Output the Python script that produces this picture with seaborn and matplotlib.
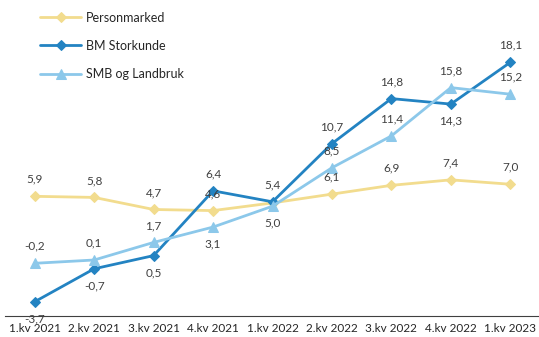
import matplotlib
matplotlib.use("Agg")
import matplotlib.pyplot as plt
import seaborn as sns
import pandas as pd

categories = ["1.kv 2021", "2.kv 2021", "3.kv 2021", "4.kv 2021", "1.kv 2022",
              "2.kv 2022", "3.kv 2022", "4.kv 2022", "1.kv 2023"]
personmarked = [5.9, 5.8, 4.7, 4.6, 5.3, 6.1, 6.9, 7.4, 7.0]
bm_storkunde = [-3.7, -0.7, 0.5, 6.4, 5.4, 10.7, 14.8, 14.3, 18.1]
smb_landbruk = [-0.2, 0.1, 1.7, 3.1, 5.0, 8.5, 11.4, 15.8, 15.2]
series_names = ["Personmarked", "BM Storkunde", "SMB og Landbruk"]

# label placement: +1 above, -1 below, 0 hidden
pos_person = [1, 1, 1, 1, 0, 1, 1, 1, 1]
pos_bm = [-1, -1, -1, 1, 1, 1, 1, -1, 1]
pos_smb = [1, 1, 1, -1, -1, 1, 1, 1, 1]

sns.set_style("white")
plt.rcParams['font.family'] = ['Lato', 'DejaVu Sans']

fig = plt.figure(figsize=(5.39, 3.37), dpi=100)
ax = fig.add_axes([5/539, 21/337, 535/539, 274.5/337])

colors = ["#F2DC8E", "#2383C2", "#8CC8EA"]
markers = ["D", "D", "^"]
msizes = [5, 5, 6.5]
lws = [2.0, 2.0, 2.0]
all_vals = [personmarked, bm_storkunde, smb_landbruk]
all_pos = [pos_person, pos_bm, pos_smb]

for name, vals, c, m, ms, lw in zip(series_names, all_vals, colors, markers, msizes, lws):
    df = pd.DataFrame({"x": list(range(len(categories))), "y": vals})
    sns.lineplot(data=df, x="x", y="y", ax=ax, color=c, marker=m, markersize=ms,
                 markeredgecolor=c, linewidth=lw, label=name, sort=False)

for vals, pos in zip(all_vals, all_pos):
    for i, (v, p) in enumerate(zip(vals, pos)):
        if p == 0:
            continue
        ax.annotate(f"{v:.1f}".replace(".", ","), (i, v), xytext=(0, 12.2 * p),
                    textcoords="offset points", ha="center", va="center",
                    fontsize=8.5, color="#404040")

ax.set_xlim(-0.5, len(categories) - 0.5)
ax.set_ylim(-5, 20)
ax.set_xlabel("")
ax.set_ylabel("")
ax.set_yticks([])
ax.set_xticks(range(len(categories)))
ax.set_xticklabels(categories, fontsize=8.5, color="#262626")
ax.set_xticks([i - 0.5 for i in range(len(categories) + 1)], minor=True)
ax.tick_params(axis="x", which="major", length=0, pad=5)
ax.tick_params(axis="x", which="minor", length=4, width=0.8, color="#404040", direction="out")
for s in ["top", "right", "left"]:
    ax.spines[s].set_visible(False)
ax.spines["bottom"].set_color("#404040")
ax.spines["bottom"].set_linewidth(0.8)
ax.patch.set_alpha(0)

leg = ax.legend(loc="upper left", bbox_to_anchor=(30/535, 1 + 35/274.5), frameon=False,
                fontsize=9, handlelength=3.3, handletextpad=0.4, labelspacing=1.3,
                borderaxespad=0)
for t in leg.get_texts():
    t.set_color("#262626")

fig.savefig("out.png", dpi=100)
